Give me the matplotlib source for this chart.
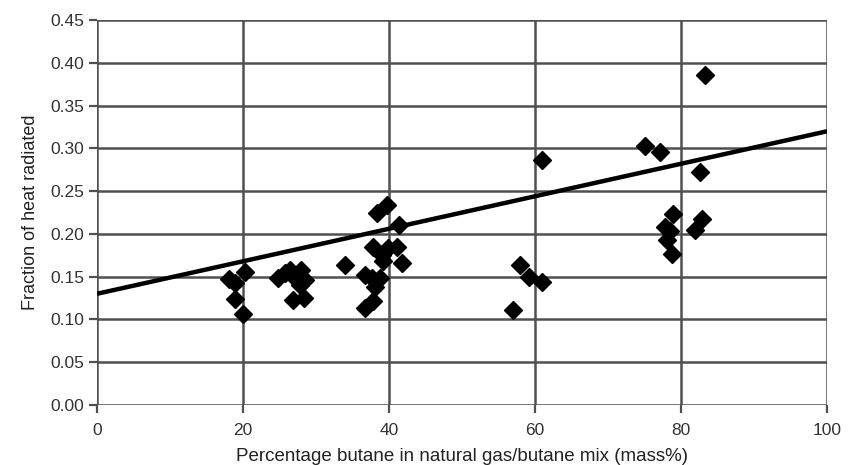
import numpy as np
import matplotlib.pyplot as plt

# Datos
butane_pct = [20.3, 18.1, 18.9, 18.9, 20.0,
              24.8, 25.8, 26.4, 27.1, 28.0, 28.5, 27.8, 26.9, 28.3,
              34.0,
              36.7, 37.6, 38.8, 38.1, 36.7, 37.8, 38.3, 39.7, 37.8, 39.0,
              39.2, 41.1, 41.3, 41.7, 39.9,
              60.9, 57.9, 59.1, 60.9, 56.9,
              83.3, 75.1, 77.1, 82.6, 78.9, 77.8, 78.5, 78.0, 78.7, 82.8, 81.9]
heat_fraction = [0.155, 0.147, 0.143, 0.124, 0.106,
                 0.149, 0.154, 0.158, 0.148, 0.158, 0.146, 0.140, 0.123, 0.125,
                 0.164,
                 0.152, 0.148, 0.148, 0.138, 0.113, 0.121, 0.224, 0.234, 0.185, 0.175,
                 0.168, 0.185, 0.210, 0.166, 0.183,
                 0.286, 0.164, 0.150, 0.144, 0.111,
                 0.386, 0.303, 0.296, 0.272, 0.223, 0.208, 0.203, 0.193, 0.177, 0.217, 0.204]

# Linea de tendencia (extremos)
trend_x = [0, 100]
trend_y = [0.13, 0.32]

x_ticks = [0, 20, 40, 60, 80, 100]
y_ticks = np.arange(0, 0.451, 0.05)

plt.rcParams['font.family'] = ['Liberation Sans', 'DejaVu Sans']

fig = plt.figure(figsize=(8.55, 4.65), dpi=100)
ax = fig.add_axes([0.1135, 0.129, 0.854, 0.828])

grid_color = "#505050"
for yt in y_ticks:
    ax.axhline(yt, color=grid_color, linewidth=1.8, zorder=1)
for xt in x_ticks:
    ax.axvline(xt, color=grid_color, linewidth=1.8, zorder=1)

ax.plot(trend_x, trend_y, color="black", linewidth=3.2, zorder=3,
        solid_capstyle="butt")
ax.plot(butane_pct, heat_fraction, "kD", markersize=9.5, zorder=4)

ax.set_xlim(0, 100)
ax.set_ylim(0, 0.45)
ax.set_xticks(x_ticks)
ax.set_yticks(y_ticks)
ax.set_yticklabels(["%.2f" % v for v in y_ticks])
for s in ax.spines.values():
    s.set_visible(False)
ax.tick_params(axis="both", colors=grid_color, labelcolor="#333333",
               labelsize=12.5, length=6, width=1.6, direction="out")
ax.tick_params(axis="x", pad=7)
ax.tick_params(axis="y", pad=3)
ax.set_xlabel("Percentage butane in natural gas/butane mix (mass%)",
              fontsize=13.5, color="#222222", labelpad=7)
ax.set_ylabel("Fraction of heat radiated", fontsize=13, color="#222222",
              labelpad=8)

fig.savefig("out.png", dpi=100)
